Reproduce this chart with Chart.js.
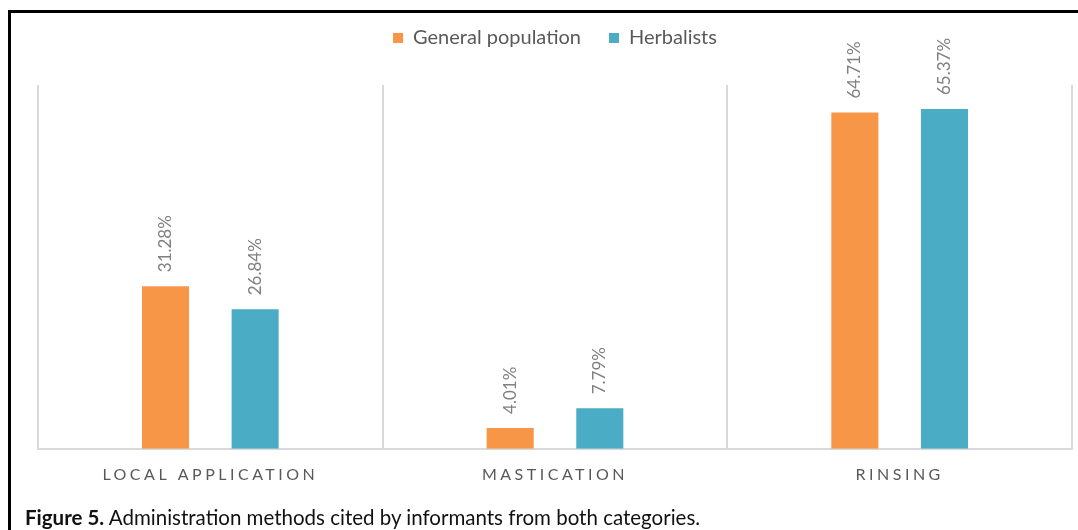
<!DOCTYPE html>
<html>
<head>
<meta charset="utf-8">
<script src="https://cdn.jsdelivr.net/npm/chart.js@4/dist/chart.umd.min.js"></script>
<style>
  html, body { margin: 0; padding: 0; background: #fff; overflow: hidden; }
  #wrap { position: relative; width: 1078px; height: 530px; }
  #frame { position: absolute; left: 8px; top: 10px; width: 1200px; height: 700px;
           border-top: 3px solid #000; border-left: 3px solid #000; box-sizing: border-box; }
  #chart { position: absolute; left: 0; top: 0; }
  #caption { position: absolute; left: 25px; top: 505px; font-family: Lato, sans-serif;
             font-size: 20.5px; color: #111; white-space: nowrap; }
  #caption b { font-weight: 700; }
</style>
</head>
<body>
<div id="wrap">
  <div id="frame"></div>
  <canvas id="chart" width="1078" height="530"></canvas>
  <div id="caption"><b>Figure 5.</b> Administration methods cited by informants from both categories.</div>
</div>
<script>
// Administration methods (percent of informants)
const categories = ['LOCAL APPLICATION', 'MASTICATION', 'RINSING'];
const generalPopulation = [31.28, 4.01, 64.71];
const herbalists = [26.84, 7.79, 65.37];
const seriesNames = ['General population', 'Herbalists'];

const ORANGE = '#F79646';
const TEAL = '#4BACC6';

// Spaced-out capitals on the category axis only
const axisLetterSpacing = {
  id: 'axisLetterSpacing',
  beforeDraw(chart) {
    const sc = chart.scales.x;
    if (sc && !sc._spaced) {
      const orig = sc.drawLabels.bind(sc);
      sc.drawLabels = function (area) {
        const ctx = chart.ctx;
        ctx.save();
        ctx.letterSpacing = '3.5px';
        orig(area);
        ctx.restore();
      };
      sc._spaced = true;
    }
  }
};

// Extra room between the legend and the plot
const legendGap = {
  id: 'legendGap',
  beforeInit(chart) {
    const fit = chart.legend.fit;
    chart.legend.fit = function () {
      fit.call(this);
      this.height += 27;
    };
  }
};

// Rotated value labels above each bar
const valueLabels = {
  id: 'valueLabels',
  afterDatasetsDraw(chart) {
    const ctx = chart.ctx;
    ctx.save();
    ctx.font = '17px Lato, sans-serif';
    ctx.fillStyle = '#808080';
    ctx.textAlign = 'left';
    ctx.textBaseline = 'middle';
    chart.data.datasets.forEach((ds, di) => {
      chart.getDatasetMeta(di).data.forEach((bar, i) => {
        const txt = ds.data[i].toFixed(2) + '%';
        ctx.save();
        ctx.translate(bar.x, bar.y - 14);
        ctx.rotate(-Math.PI / 2);
        ctx.fillText(txt, 0, 0);
        ctx.restore();
      });
    });
    ctx.restore();
  }
};

new Chart(document.getElementById('chart'), {
  type: 'bar',
  data: {
    labels: categories,
    datasets: [
      { label: seriesNames[0], data: generalPopulation, backgroundColor: ORANGE,
        categoryPercentage: 0.52, barPercentage: 0.525 },
      { label: seriesNames[1], data: herbalists, backgroundColor: TEAL,
        categoryPercentage: 0.52, barPercentage: 0.525 }
    ]
  },
  options: {
    responsive: false,
    devicePixelRatio: 1,
    animation: false,
    layout: { padding: { left: 38, right: 6, top: 0, bottom: 30 } },
    plugins: {
      tooltip: { enabled: false },
      legend: {
        position: 'top',
        labels: {
          boxWidth: 10, boxHeight: 10, padding: 28,
          color: '#595959',
          font: { family: 'Lato, sans-serif', size: 20 }
        }
      }
    },
    scales: {
      x: {
        offset: true,
        grid: { offset: true, color: '#d9d9d9', lineWidth: 2, drawTicks: false },
        border: { color: '#d9d9d9', width: 2 },
        ticks: { color: '#595959', padding: 16, font: { family: 'Lato, sans-serif', size: 16 } }
      },
      y: {
        display: false,
        min: 0, max: 70
      }
    }
  },
  plugins: [axisLetterSpacing, legendGap, valueLabels]
});
</script>
</body>
</html>
